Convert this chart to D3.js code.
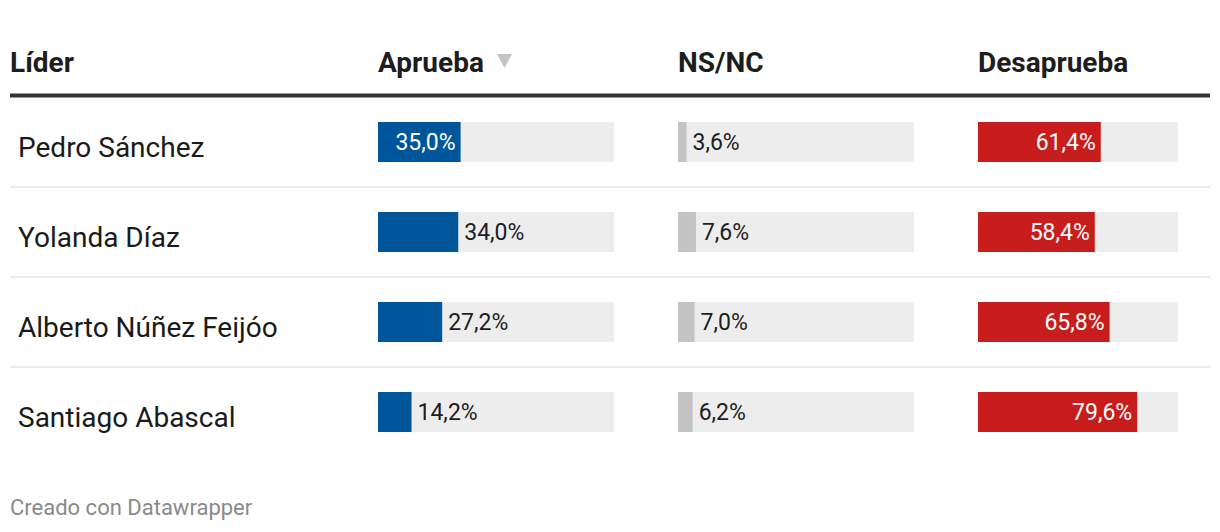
<!DOCTYPE html>
<html><head><meta charset="utf-8">
<script src="https://cdn.jsdelivr.net/npm/d3@7"></script>
<style>
html,body{margin:0;padding:0;background:#fff;}
svg{display:block;font-family:Roboto,"Noto Sans",sans-serif;}
</style></head>
<body><svg id="chart" width="1220" height="532"></svg>
<script>
const leaders = ["Pedro Sánchez","Yolanda Díaz","Alberto Núñez Feijóo","Santiago Abascal"];
const aprueba = [35.0, 34.0, 27.2, 14.2];
const nsnc = [3.6, 7.6, 7.0, 6.2];
const desaprueba = [61.4, 58.4, 65.8, 79.6];
const headers = ["Líder","Aprueba","NS/NC","Desaprueba"];
const footer = "Creado con Datawrapper";

const svg = d3.select("#chart");
const fmt = v => d3.format(".1f")(v).replace(".", ",") + "%";

const cols = [
  {key:"aprueba", values:aprueba, x0:378, w:236, color:"#00569a", inside: v => v >= 35},
  {key:"nsnc", values:nsnc, x0:678, w:236, color:"#c4c4c4", inside: v => false},
  {key:"desaprueba", values:desaprueba, x0:978, w:200, color:"#c71e1d", inside: v => true}
];
const headerX = [10, 378, 678, 978];

const y = d3.scaleBand().domain(leaders).range([100, 460]).paddingInner(0).paddingOuter(0);
const barH = 40;

// headers
const hdr = svg.selectAll("text.hdr").data(headers).join("text")
  .attr("class","hdr").attr("x",(d,i)=>headerX[i]).attr("y",72)
  .attr("font-size",28).attr("font-weight",700).attr("fill","#1d1d1d")
  .text(d=>d);
// sort triangle after "Aprueba"
svg.append("path").attr("d","M497,54 L512,54 L504.5,68 Z").attr("fill","#c4c4c4");

// header line
svg.append("rect").attr("x",10).attr("y",93.5).attr("width",1200).attr("height",4).attr("fill","#333");

// row separators
svg.selectAll("line.sep").data(leaders.slice(0,-1)).join("line")
  .attr("x1",10).attr("x2",1210)
  .attr("y1",d=>y(d)+y.bandwidth()-3).attr("y2",d=>y(d)+y.bandwidth()-3)
  .attr("stroke","#e6e6e6").attr("stroke-width",1.5);

// names
svg.selectAll("text.name").data(leaders).join("text")
  .attr("class","name").attr("x",18).attr("y",d=>y(d)+y.bandwidth()/2+2)
  .attr("dy","0.36em").attr("font-size",28).attr("fill","#1a1a1a")
  .text(d=>d);

cols.forEach(c=>{
  const x = d3.scaleLinear().domain([0,100]).range([0,c.w]);
  const g = svg.append("g").attr("transform",`translate(${c.x0},0)`);
  g.selectAll("rect.bg").data(leaders).join("rect")
    .attr("x",0).attr("y",d=>y(d)+y.bandwidth()/2-3-barH/2).attr("width",c.w).attr("height",barH)
    .attr("fill","#ededed");
  g.selectAll("rect.bar").data(leaders).join("rect")
    .attr("x",0).attr("y",d=>y(d)+y.bandwidth()/2-3-barH/2)
    .attr("width",(d,i)=>x(c.values[i])).attr("height",barH).attr("fill",c.color);
  g.selectAll("text.lbl").data(leaders).join("text")
    .attr("x",(d,i)=> c.inside(c.values[i]) ? x(c.values[i]) - 5 : x(c.values[i]) + 6)
    .attr("y",d=>y(d)+y.bandwidth()/2-3).attr("dy","0.36em")
    .attr("text-anchor",(d,i)=> c.inside(c.values[i]) ? "end" : "start")
    .attr("font-size",23).attr("fill",(d,i)=> c.inside(c.values[i]) ? "#fff" : "#1d1d1d")
    .text((d,i)=>fmt(c.values[i]));
});

svg.append("text").attr("x",10).attr("y",515).attr("font-size",22).attr("fill","#8a8a8a").text(footer);
</script></body></html>
